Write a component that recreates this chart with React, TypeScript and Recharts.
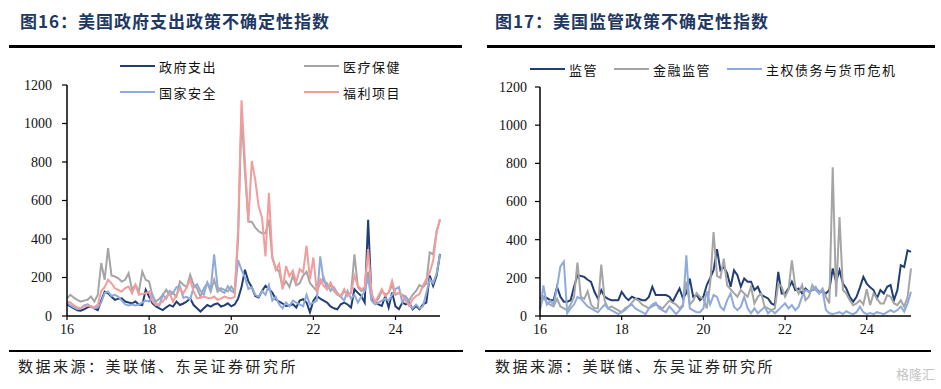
import { LineChart, Line, XAxis, YAxis, Legend } from "recharts";

// month categories Jan 2016 .. Feb 2025
const months: string[] = [];
for (let i = 0; i < 110; i++) {
  const y = 2016 + Math.floor(i / 12);
  months.push(`${y}-${String((i % 12) + 1).padStart(2, "0")}`);
}

const yTicks = [0, 200, 400, 600, 800, 1000, 1200];

// 图16 series
const gov = [
  60, 50, 40, 30, 28, 35, 45, 50, 40, 31, 80, 127,
  118, 100, 84, 90, 92, 75, 70, 66, 75, 60, 57, 136,
  100, 66, 50, 40, 31, 45, 57, 49, 75, 57, 65, 75,
  92, 57, 40, 23, 40, 57, 49, 60, 66, 49, 55, 66,
  50, 60, 90, 150, 240, 180, 150, 104, 96, 130, 157, 140,
  122, 87, 75, 65, 52, 55, 61, 44, 80, 87, 70, 20,
  80, 104, 90, 80, 70, 50, 40, 35, 61, 70, 60, 44,
  139, 120, 104, 70, 500, 87, 70, 60, 52, 104, 44, 122,
  50, 35, 70, 60, 70, 35, 52, 35, 60, 70, 210, 157,
  209, 322,
];
const health = [
  92, 110, 95, 84, 75, 80, 84, 101, 75, 110, 275, 188,
  353, 210, 205, 196, 179, 188, 222, 136, 162, 127, 231, 188,
  179, 101, 75, 90, 110, 136, 110, 118, 101, 179, 162, 150,
  214, 162, 144, 101, 144, 170, 127, 188, 127, 144, 136, 127,
  153, 127, 400, 1050, 750, 490, 490, 460, 440, 430, 430, 500,
  300, 250, 230, 150, 180, 150, 210, 160, 170, 210, 230, 170,
  150, 130, 170, 200, 140, 160, 130, 110, 100, 130, 110, 120,
  320, 150, 130, 140, 230, 110, 70, 90, 130, 110, 120, 160,
  110, 120, 110, 100, 80, 110, 130, 160, 150, 170, 330, 320,
  440, 500,
];
const security = [
  70, 55, 45, 35, 40, 55, 60, 50, 40, 45, 70, 120,
  127, 105, 110, 100, 80, 60, 55, 60, 55, 60, 70, 80,
  75, 110, 60, 55, 110, 90, 130, 120, 150, 155, 95, 100,
  85, 150, 165, 130, 110, 175, 140, 320, 150, 130, 120, 155,
  130, 120, 290, 240, 200, 140, 150, 110, 100, 130, 110, 160,
  80, 100, 60, 40, 70, 50, 80, 70, 60, 50, 110, 60,
  70, 80, 310, 180, 170, 130, 150, 120, 100, 80, 130, 90,
  110, 70, 100, 130, 200, 80, 60, 70, 80, 90, 80, 110,
  140, 150, 70, 100, 60, 40, 60, 40, 50, 120, 190, 170,
  220, 320,
];
const welfare = [
  75, 70, 55, 45, 40, 50, 55, 50, 45, 60, 130, 150,
  188, 170, 144, 135, 127, 145, 153, 118, 162, 110, 115, 118,
  127, 75, 57, 65, 75, 100, 118, 75, 110, 144, 118, 150,
  188, 127, 92, 95, 101, 95, 92, 101, 84, 90, 101, 95,
  92, 100, 450, 1120, 800, 490, 805, 710, 570, 510, 310, 640,
  310, 240, 270, 139, 260, 207, 235, 174, 243, 226, 365, 191,
  304, 122, 190, 157, 139, 174, 139, 113, 104, 139, 104, 122,
  209, 157, 139, 150, 348, 122, 70, 104, 139, 104, 122, 183,
  113, 122, 104, 78, 52, 87, 104, 113, 157, 191, 226, 287,
  435, 504,
];

// 图17 series
const reg = [
  92, 101, 95, 83, 83, 153, 101, 75, 75, 83, 153, 214,
  210, 205, 190, 179, 127, 92, 136, 101, 90, 83, 83, 83,
  127, 100, 83, 101, 92, 90, 83, 83, 100, 153, 110, 110,
  110, 110, 101, 75, 110, 144, 92, 120, 196, 101, 110, 83,
  101, 162, 200, 240, 350, 240, 257, 223, 153, 240, 214, 153,
  197, 180, 180, 136, 153, 110, 101, 92, 66, 57, 231, 118,
  118, 144, 180, 136, 144, 118, 144, 127, 136, 144, 127, 127,
  118, 136, 249, 180, 240, 170, 144, 101, 75, 101, 150, 205,
  170, 150, 136, 92, 136, 118, 153, 162, 83, 136, 266, 257,
  344, 336,
];
const finReg = [
  40, 100, 70, 60, 50, 90, 50, 40, 30, 60, 100, 280,
  100, 90, 130, 60, 40, 40, 270, 80, 40, 50, 40, 30,
  20, 40, 50, 70, 90, 80, 60, 50, 40, 50, 60, 50,
  40, 60, 80, 70, 60, 40, 60, 180, 60, 80, 120, 100,
  90, 40, 170, 440, 210, 200, 300, 160, 140, 120, 101, 136,
  118, 101, 153, 66, 101, 118, 49, 40, 31, 40, 170, 153,
  101, 136, 292, 153, 118, 162, 83, 101, 162, 136, 118, 144,
  101, 66, 779, 101, 519, 136, 118, 83, 57, 66, 83, 60,
  140, 57, 118, 92, 66, 66, 110, 101, 66, 57, 83, 49,
  100, 250,
];
const sovDebt = [
  30, 160, 60, 80, 60, 150, 260, 285, 15, 40, 60, 100,
  90, 70, 50, 40, 30, 20, 40, 60, 40, 30, 20, 10,
  20, 30, 50, 60, 40, 30, 20, 10, 40, 60, 70, 40,
  30, 20, 50, 30, 10, 30, 50, 318, 40, 30, 20, 20,
  40, 130, 60, 110, 100, 49, 31, 83, 118, 49, 31, 49,
  101, 40, 14, 40, 14, 31, 49, 14, 31, 14, 31, 49,
  66, 40, 57, 31, 49, 101, 136, 127, 136, 153, 118, 136,
  31, 14, 10, 15, 20, 10, 25, 15, 10, 20, 49, 20,
  10, 15, 10, 20, 15, 10, 20, 31, 20, 31, 49, 23,
  66, 127,
];

const leftData = months.map((m, i) => ({
  month: m,
  gov: gov[i],
  health: health[i],
  security: security[i],
  welfare: welfare[i],
}));
const rightData = months.map((m, i) => ({
  month: m,
  reg: reg[i],
  finReg: finReg[i],
  sovDebt: sovDebt[i],
}));

const NAVY = "#223F74";
const GREY = "#A5A5A5";
const LIGHT = "#8FAADC";
const PINK = "#F29C9C";

const leftSeries = [
  { key: "gov", name: "政府支出", color: NAVY },
  { key: "health", name: "医疗保健", color: GREY },
  { key: "security", name: "国家安全", color: LIGHT },
  { key: "welfare", name: "福利项目", color: PINK },
];
const rightSeries = [
  { key: "reg", name: "监管", color: NAVY },
  { key: "finReg", name: "金融监管", color: GREY },
  { key: "sovDebt", name: "主权债务与货币危机", color: LIGHT },
];

const cjk = '"Noto Sans CJK SC", sans-serif';
const serif = '"Liberation Serif", "Times New Roman", serif';
const tickStyle = { fontFamily: serif, fontSize: 14, fill: "#111" };

// legend drawn in series order (recharts sorts its payload by name)
const LegendItems = (series: typeof leftSeries, grid: boolean) => () => (
  <div
    style={
      grid
        ? { display: "grid", gridTemplateColumns: "184px 184px" }
        : { display: "flex", columnGap: 16 }
    }
  >
    {series.map((s) => (
      <div key={s.key} style={{ display: "flex", alignItems: "center", height: 26 }}>
        <svg width={35} height={4}>
          <line x1={0} y1={2} x2={35} y2={2} stroke={s.color} strokeWidth={2} />
        </svg>
        <span style={{ marginLeft: 4, fontSize: 13, letterSpacing: 1.5, color: "#111", fontFamily: cjk }}>
          {s.name}
        </span>
      </div>
    ))}
  </div>
);

const yearLabel = (v: string) => v.slice(2, 4);

function Rule({ x, y, w, h }: { x: number; y: number; w: number; h: number }) {
  return <div style={{ position: "absolute", left: x, top: y, width: w, height: h, background: "#000" }} />;
}

function Caption({ x, y, text }: { x: number; y: number; text: string }) {
  return (
    <div style={{ position: "absolute", left: x, top: y, fontFamily: cjk, fontSize: 15, letterSpacing: 2.5, color: "#222", whiteSpace: "nowrap" }}>
      {text}
    </div>
  );
}

function Title({ x, text }: { x: number; text: string }) {
  return (
    <div style={{ position: "absolute", left: x, top: 8, fontFamily: cjk, fontSize: 17, fontWeight: 700, letterSpacing: 1, color: "#1F3864", whiteSpace: "nowrap" }}>
      {text}
    </div>
  );
}

export default function App() {
  return (
    <div style={{ position: "absolute", left: 0, top: 0, width: 941, height: 389, background: "#fff", overflow: "hidden" }}>
      <Title x={20} text="图16：美国政府支出政策不确定性指数" />
      <Title x={495} text="图17：美国监管政策不确定性指数" />
      <Rule x={9} y={45} w={453} h={2.5} />
      <Rule x={487} y={45} w={448} h={2.5} />

      <div style={{ position: "absolute", left: 0, top: 0 }}>
        <LineChart width={470} height={350} data={leftData} margin={{ top: 85, right: 30, bottom: 4, left: 7 }}>
          <XAxis
            dataKey="month"
            interval={23}
            tickFormatter={yearLabel}
            tick={tickStyle}
            tickSize={4}
            tickMargin={4}
            height={30}
            axisLine={{ stroke: "#000", strokeWidth: 1.5 }}
            tickLine={{ stroke: "#000", strokeWidth: 1.2 }}
          />
          <YAxis
            domain={[0, 1200]}
            ticks={yTicks}
            interval={0}
            width={60}
            tick={tickStyle}
            tickSize={5}
            tickMargin={10}
            axisLine={{ stroke: "#000", strokeWidth: 1.5 }}
            tickLine={{ stroke: "#000", strokeWidth: 1.2 }}
          />
          <Legend
            verticalAlign="middle"
            align="center"
            content={LegendItems(leftSeries, true)}
            wrapperStyle={{ left: 120, top: 53, width: 370 }}
          />
          {leftSeries.map((s) => (
            <Line key={s.key} dataKey={s.key} name={s.name} stroke={s.color} strokeWidth={2} dot={false} isAnimationActive={false} />
          ))}
        </LineChart>
      </div>

      <div style={{ position: "absolute", left: 470, top: 0 }}>
        <LineChart width={471} height={350} data={rightData} margin={{ top: 87, right: 30, bottom: 4, left: 10 }}>
          <XAxis
            dataKey="month"
            interval={23}
            tickFormatter={yearLabel}
            tick={tickStyle}
            tickSize={4}
            tickMargin={4}
            height={30}
            axisLine={{ stroke: "#000", strokeWidth: 1.5 }}
            tickLine={{ stroke: "#000", strokeWidth: 1.2 }}
          />
          <YAxis
            domain={[0, 1200]}
            ticks={yTicks}
            interval={0}
            width={60}
            tick={tickStyle}
            tickSize={5}
            tickMargin={8}
            axisLine={{ stroke: "#000", strokeWidth: 1.5 }}
            tickLine={{ stroke: "#000", strokeWidth: 1.2 }}
          />
          <Legend
            verticalAlign="middle"
            align="center"
            content={LegendItems(rightSeries, false)}
            wrapperStyle={{ left: 60, top: 56, width: 400 }}
          />
          {rightSeries.map((s) => (
            <Line key={s.key} dataKey={s.key} name={s.name} stroke={s.color} strokeWidth={2} dot={false} isAnimationActive={false} />
          ))}
        </LineChart>
      </div>

      <Rule x={9} y={350} w={454} h={2} />
      <Rule x={485} y={350} w={446} h={2} />
      <Caption x={18} y={355} text="数据来源：美联储、东吴证券研究所" />
      <Caption x={495} y={355} text="数据来源：美联储、东吴证券研究所" />
      <div style={{ position: "absolute", left: 896, top: 364, fontFamily: cjk, fontSize: 13, color: "#c4c4c4" }}>
        格隆汇
      </div>
    </div>
  );
}
